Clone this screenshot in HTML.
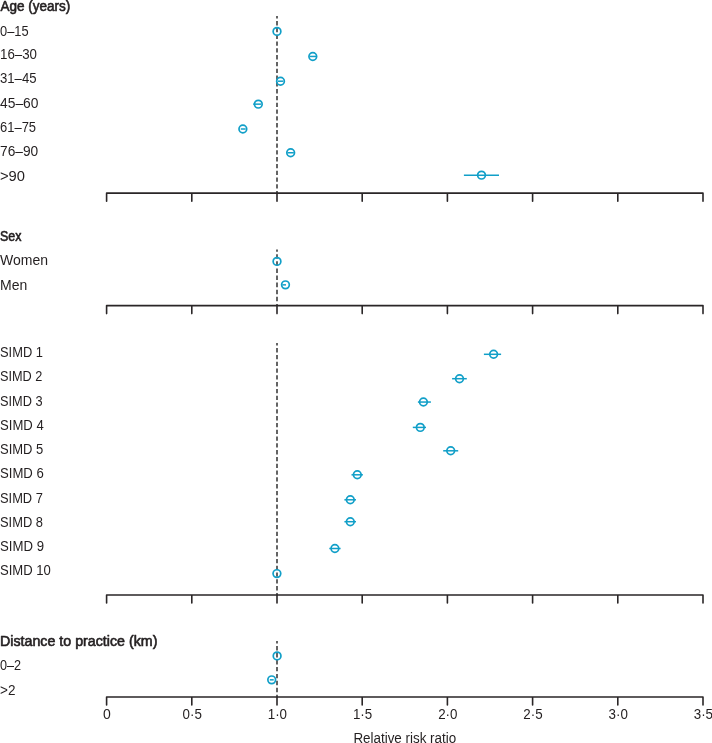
<!DOCTYPE html>
<html><head><meta charset="utf-8"><style>
html,body{margin:0;padding:0;background:#fff;width:712px;height:743px;overflow:hidden}
svg{display:block;position:absolute;left:0;top:0;will-change:transform}
text{font-family:"Liberation Sans",sans-serif;font-size:14px;fill:#231f20}
.b{font-weight:normal;stroke:#231f20;stroke-width:0.6px;stroke-linejoin:round}
</style></head><body>
<svg width="712" height="743" viewBox="0 0 712 743">

<line x1="277" y1="15.9" x2="277" y2="193.0" stroke="#323232" stroke-width="1.5" stroke-dasharray="4.3 2.5" stroke-dashoffset="1.6"/>
<line x1="277" y1="249.4" x2="277" y2="305.6" stroke="#323232" stroke-width="1.5" stroke-dasharray="4.55 2.55" stroke-dashoffset="2.3"/>
<line x1="277" y1="342.9" x2="277" y2="594.9" stroke="#323232" stroke-width="1.5" stroke-dasharray="4.3 2.5" stroke-dashoffset="1.6"/>
<line x1="277" y1="640.9" x2="277" y2="697.0" stroke="#323232" stroke-width="1.5" stroke-dasharray="4.4 2.55" stroke-dashoffset="1.75"/>
<path d="M106.6,201.15 V193.15 H703.0 V201.15 M191.8,193.15 V201.15 M277.0,193.15 V201.15 M362.2,193.15 V201.15 M447.4,193.15 V201.15 M532.6,193.15 V201.15 M617.8,193.15 V201.15" fill="none" stroke="#2a2627" stroke-width="1.6" stroke-linecap="round" stroke-linejoin="round"/>
<path d="M106.6,313.6 V305.6 H703.0 V313.6 M191.8,305.6 V313.6 M277.0,305.6 V313.6 M362.2,305.6 V313.6 M447.4,305.6 V313.6 M532.6,305.6 V313.6 M617.8,305.6 V313.6" fill="none" stroke="#2a2627" stroke-width="1.6" stroke-linecap="round" stroke-linejoin="round"/>
<path d="M106.6,602.95 V594.95 H703.0 V602.95 M191.8,594.95 V602.95 M277.0,594.95 V602.95 M362.2,594.95 V602.95 M447.4,594.95 V602.95 M532.6,594.95 V602.95 M617.8,594.95 V602.95" fill="none" stroke="#2a2627" stroke-width="1.6" stroke-linecap="round" stroke-linejoin="round"/>
<path d="M106.6,705.05 V697.05 H703.0 V705.05 M191.8,697.05 V705.05 M277.0,697.05 V705.05 M362.2,697.05 V705.05 M447.4,697.05 V705.05 M532.6,697.05 V705.05 M617.8,697.05 V705.05" fill="none" stroke="#2a2627" stroke-width="1.6" stroke-linecap="round" stroke-linejoin="round"/>
<g fill="none" stroke="#119fc8">
<circle cx="277.0" cy="31.4" r="3.85" stroke-width="1.7"/>
<line x1="309.7" y1="56.45" x2="316.4" y2="56.45" stroke-width="1.5"/>
<circle cx="312.8" cy="56.45" r="3.85" stroke-width="1.7"/>
<line x1="277.7" y1="81.2" x2="283.3" y2="81.2" stroke-width="1.5"/>
<circle cx="280.5" cy="81.2" r="3.85" stroke-width="1.7"/>
<line x1="253.2" y1="104.15" x2="261.1" y2="104.15" stroke-width="1.5"/>
<circle cx="258.3" cy="104.15" r="3.85" stroke-width="1.7"/>
<line x1="240.8" y1="129.0" x2="245.6" y2="129.0" stroke-width="1.5"/>
<circle cx="242.85" cy="129.0" r="3.85" stroke-width="1.7"/>
<line x1="287.5" y1="152.75" x2="293.8" y2="152.75" stroke-width="1.5"/>
<circle cx="290.66" cy="152.75" r="3.85" stroke-width="1.7"/>
<line x1="463.9" y1="175.15" x2="499.0" y2="175.15" stroke-width="1.5"/>
<circle cx="481.5" cy="175.15" r="3.85" stroke-width="1.7"/>
<circle cx="277.0" cy="261.4" r="3.85" stroke-width="1.7"/>
<line x1="282.3" y1="284.85" x2="286.0" y2="284.85" stroke-width="1.5"/>
<circle cx="285.45" cy="284.85" r="3.85" stroke-width="1.7"/>
<line x1="483.9" y1="354.3" x2="501.1" y2="354.3" stroke-width="1.5"/>
<circle cx="493.6" cy="354.3" r="3.85" stroke-width="1.7"/>
<line x1="452.1" y1="378.7" x2="466.8" y2="378.7" stroke-width="1.5"/>
<circle cx="459.5" cy="378.7" r="3.85" stroke-width="1.7"/>
<line x1="417.9" y1="402.05" x2="430.9" y2="402.05" stroke-width="1.5"/>
<circle cx="423.4" cy="402.05" r="3.85" stroke-width="1.7"/>
<line x1="412.8" y1="427.4" x2="426.0" y2="427.4" stroke-width="1.5"/>
<circle cx="420.3" cy="427.4" r="3.85" stroke-width="1.7"/>
<line x1="443.2" y1="450.8" x2="458.2" y2="450.8" stroke-width="1.5"/>
<circle cx="450.7" cy="450.8" r="3.85" stroke-width="1.7"/>
<line x1="351.5" y1="474.8" x2="362.9" y2="474.8" stroke-width="1.5"/>
<circle cx="357.3" cy="474.8" r="3.85" stroke-width="1.7"/>
<line x1="344.4" y1="499.8" x2="356.0" y2="499.8" stroke-width="1.5"/>
<circle cx="350.3" cy="499.8" r="3.85" stroke-width="1.7"/>
<line x1="344.4" y1="521.7" x2="356.0" y2="521.7" stroke-width="1.5"/>
<circle cx="350.3" cy="521.7" r="3.85" stroke-width="1.7"/>
<line x1="329.3" y1="548.5" x2="340.6" y2="548.5" stroke-width="1.5"/>
<circle cx="334.9" cy="548.5" r="3.85" stroke-width="1.7"/>
<circle cx="276.9" cy="573.6" r="3.85" stroke-width="1.7"/>
<circle cx="277.1" cy="655.9" r="3.85" stroke-width="1.7"/>
<line x1="269.8" y1="679.85" x2="273.7" y2="679.85" stroke-width="1.5"/>
<circle cx="271.7" cy="679.85" r="3.85" stroke-width="1.7"/>
</g>
<text x="0.4" y="11.0" class="b" textLength="69.8" lengthAdjust="spacingAndGlyphs">Age (years)</text>
<text x="0" y="35.5" textLength="28.6" lengthAdjust="spacingAndGlyphs">0–15</text>
<text x="0" y="59.4" textLength="37.0" lengthAdjust="spacingAndGlyphs">16–30</text>
<text x="0" y="83.3" textLength="36.5" lengthAdjust="spacingAndGlyphs">31–45</text>
<text x="0" y="108.2" textLength="38.5" lengthAdjust="spacingAndGlyphs">45–60</text>
<text x="0" y="132.0" textLength="36.1" lengthAdjust="spacingAndGlyphs">61–75</text>
<text x="0" y="156.4" textLength="38.2" lengthAdjust="spacingAndGlyphs">76–90</text>
<text x="0" y="180.8" textLength="25.0" lengthAdjust="spacingAndGlyphs">&gt;90</text>
<text x="0" y="241.0" class="b" textLength="21.4" lengthAdjust="spacingAndGlyphs">Sex</text>
<text x="0" y="265.2">Women</text>
<text x="0" y="289.9">Men</text>
<text x="0" y="356.9" textLength="42.95" lengthAdjust="spacingAndGlyphs">SIMD 1</text>
<text x="0" y="381.2" textLength="42.4" lengthAdjust="spacingAndGlyphs">SIMD 2</text>
<text x="0" y="405.6" textLength="42.6" lengthAdjust="spacingAndGlyphs">SIMD 3</text>
<text x="0" y="429.7" textLength="43.7" lengthAdjust="spacingAndGlyphs">SIMD 4</text>
<text x="0" y="453.8" textLength="43.3" lengthAdjust="spacingAndGlyphs">SIMD 5</text>
<text x="0" y="478.1" textLength="43.8" lengthAdjust="spacingAndGlyphs">SIMD 6</text>
<text x="0" y="502.5" textLength="42.9" lengthAdjust="spacingAndGlyphs">SIMD 7</text>
<text x="0" y="526.8" textLength="43.0" lengthAdjust="spacingAndGlyphs">SIMD 8</text>
<text x="0" y="551.1" textLength="44.0" lengthAdjust="spacingAndGlyphs">SIMD 9</text>
<text x="0" y="575.3" textLength="50.9" lengthAdjust="spacingAndGlyphs">SIMD 10</text>
<text x="0" y="645.9" class="b" textLength="157.4" lengthAdjust="spacingAndGlyphs">Distance to practice (km)</text>
<text x="0" y="669.9" textLength="21.1" lengthAdjust="spacingAndGlyphs">0–2</text>
<text x="0" y="694.5" textLength="15.4" lengthAdjust="spacingAndGlyphs">&gt;2</text>
<text x="107.0" y="718.9" text-anchor="middle" textLength="7.8" lengthAdjust="spacingAndGlyphs">0</text>
<text x="192.2" y="718.9" text-anchor="middle" textLength="19.3" lengthAdjust="spacingAndGlyphs">0·5</text>
<text x="277.4" y="718.9" text-anchor="middle" textLength="19.3" lengthAdjust="spacingAndGlyphs">1·0</text>
<text x="362.6" y="718.9" text-anchor="middle" textLength="19.3" lengthAdjust="spacingAndGlyphs">1·5</text>
<text x="447.8" y="718.9" text-anchor="middle" textLength="19.3" lengthAdjust="spacingAndGlyphs">2·0</text>
<text x="533.0" y="718.9" text-anchor="middle" textLength="19.3" lengthAdjust="spacingAndGlyphs">2·5</text>
<text x="618.2" y="718.9" text-anchor="middle" textLength="19.3" lengthAdjust="spacingAndGlyphs">3·0</text>
<text x="703.4" y="718.9" text-anchor="middle" textLength="19.3" lengthAdjust="spacingAndGlyphs">3·5</text>
<text x="404.8" y="742.5" text-anchor="middle" textLength="102.8" lengthAdjust="spacingAndGlyphs">Relative risk ratio</text>
</svg></body></html>
